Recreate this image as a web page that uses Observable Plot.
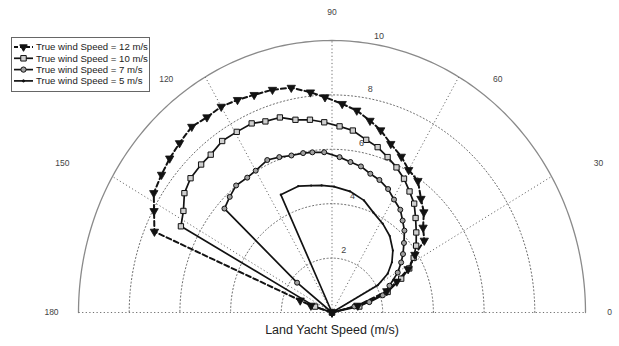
<!DOCTYPE html>
<html><head><meta charset="utf-8">
<script src="https://cdn.jsdelivr.net/npm/d3@7"></script>
<script src="https://cdn.jsdelivr.net/npm/@observablehq/plot@0.6"></script>
<style>
html,body{margin:0;padding:0;background:#fff;}
#wrap{position:relative;width:619px;height:346px;font-family:"Liberation Sans",Arial,sans-serif;}
#wrap svg.plot{position:absolute;left:0;top:0;}
#legend{position:absolute;left:11px;top:37px;}
</style></head><body><div id="wrap"></div>
<script>
// ---- data (angle in degrees, land yacht speed in m/s) ----
const seriesNames = ["True wind Speed = 12 m/s","True wind Speed = 10 m/s","True wind Speed = 7 m/s","True wind Speed = 5 m/s"];
const angles12 = [0, 14, 20, 24, 28, 33, 36, 41, 45.5, 50, 55, 60, 64.5, 69.5, 74, 78, 82.5, 87, 92, 96, 101, 106, 111, 115.5, 120, 124.5, 129, 134, 138.5, 143, 148, 152, 157, 160.5, 163, 170];
const speeds12 = [0, 1.05, 2.3, 2.8, 3.4, 3.9, 4.5, 4.76, 5.17, 5.46, 5.91, 6.05, 6.35, 6.62, 6.97, 7.21, 7.49, 7.68, 7.92, 8.14, 8.42, 8.52, 8.57, 8.66, 8.74, 8.71, 8.79, 8.66, 8.55, 8.42, 8.29, 7.95, 7.61, 1.33, 0.87, 0];
const angles10 = [0, 11.5, 19, 24.5, 28, 32, 36.5, 41.5, 46.5, 51, 55.5, 60, 64.5, 69, 73.5, 78, 83, 87.5, 92.5, 97, 101.5, 106, 110.5, 114.5, 119.5, 124.5, 129.5, 133.5, 138.5, 143, 147.5, 152, 162, 170];
const speeds10 = [0, 1.1, 2.32, 3.0, 3.45, 3.8, 4.13, 4.44, 4.79, 5.15, 5.4, 5.68, 5.91, 6.12, 6.34, 6.49, 6.74, 6.85, 7.0, 7.14, 7.23, 7.46, 7.5, 7.64, 7.63, 7.65, 7.52, 7.5, 7.45, 7.29, 6.95, 6.75, 0.7, 0];
const angles7 = [0, 14, 14.5, 17.5, 23.5, 29.5, 34, 37.5, 42, 46.5, 50.5, 54.5, 59.5, 64, 69, 73.5, 78, 82.5, 87, 93, 97.5, 101, 105.5, 110, 114.5, 120, 124, 129, 133.5, 138, 141.5, 170];
const speeds7 = [0, 0.91, 1.52, 2.1, 2.47, 2.98, 3.29, 3.53, 3.82, 4.15, 4.38, 4.64, 4.82, 5.05, 5.22, 5.32, 5.49, 5.58, 5.72, 5.9, 5.94, 5.97, 5.99, 6.08, 6.16, 6.02, 5.98, 6.01, 5.86, 5.71, 1.76, 0];
const angles5 = [0, 29, 33, 38, 43.5, 51, 58.5, 66, 73, 81, 89, 95, 100, 106, 115, 170];
const speeds5 = [0, 2.06, 2.62, 3.0, 3.31, 3.62, 3.83, 4.02, 4.31, 4.51, 4.63, 4.69, 4.74, 4.83, 4.78, 0];

const ringValues = [2, 4, 6, 8, 10];
const ringLabels = ["2", "4", "6", "8", "10"];
const spokeAngles = [30, 60, 90, 120, 150];
const angleTicks = [0, 30, 60, 90, 120, 150, 180];
const angleTickLabels = ["0", "30", "60", "90", "120", "150", "180"];
const axisTitle = "Land Yacht Speed (m/s)";

// ---- derived tables ----
const rMax = d3.max(ringValues);
const rad = a => a * Math.PI / 180;
const polar = (angles, speeds, name) => angles.map((a, i) => ({series: name, a, r: speeds[i],
  x: speeds[i] * Math.cos(rad(a)), y: speeds[i] * Math.sin(rad(a))}));
const d12 = polar(angles12, speeds12, seriesNames[0]);
const d10 = polar(angles10, speeds10, seriesNames[1]);
const d7 = polar(angles7, speeds7, seriesNames[2]);
const d5 = polar(angles5, speeds5, seriesNames[3]);
const ringPts = ringValues.flatMap(r => d3.range(0, 180.5, 1).map(a => ({ring: r, x: r * Math.cos(rad(a)), y: r * Math.sin(rad(a))})));

const tickOffsets = {0: [24, 0], 30: [47, -13], 60: [39, 2], 90: [0, -28], 120: [-39, 2], 150: [-50, -13], 180: [-27, 0]};
const ringLabelAngle = 80;

const grid = "#6e6e6e";
const dots = "1.2,2.4";
const ink = "#121212";

const marks = [
  Plot.line(ringPts.filter(d => d.ring < rMax), {x: "x", y: "y", z: "ring", stroke: grid, strokeWidth: 1, strokeDasharray: dots}),
  Plot.line(ringPts.filter(d => d.ring === rMax), {x: "x", y: "y", stroke: "#8a8a8a", strokeWidth: 1.3}),
  Plot.link(spokeAngles, {x1: () => 0, y1: () => 0, x2: a => rMax * Math.cos(rad(a)), y2: a => rMax * Math.sin(rad(a)), stroke: grid, strokeWidth: 1, strokeDasharray: dots}),
  Plot.link([rMax], {x1: r => -r, y1: () => 0, x2: r => r, y2: () => 0, stroke: grid, strokeWidth: 1.2, strokeDasharray: dots}),
  Plot.text(ringValues, {x: r => r * Math.cos(rad(ringLabelAngle)), y: r => r * Math.sin(rad(ringLabelAngle)), text: (r, i) => ringLabels[i], dx: 3, dy: -9, fontSize: 9, fill: "#444"}),
  ...angleTicks.map((a, i) => Plot.text([a], {x: d => rMax * Math.cos(rad(d)), y: d => rMax * Math.sin(rad(d)), text: () => angleTickLabels[i], dx: tickOffsets[a][0], dy: tickOffsets[a][1], fontSize: 8.5, fill: "#444"})),
  // series lines
  Plot.line(d5, {x: "x", y: "y", stroke: ink, strokeWidth: 1.7}),
  Plot.line(d7, {x: "x", y: "y", stroke: ink, strokeWidth: 1.7}),
  Plot.line(d10, {x: "x", y: "y", stroke: ink, strokeWidth: 1.7}),
  Plot.line(d12, {x: "x", y: "y", stroke: ink, strokeWidth: 2, strokeDasharray: "5,3"}),
  // markers
  Plot.dot(d5, {x: "x", y: "y", r: 1.1, fill: ink, stroke: "none"}),
  Plot.dot(d7, {x: "x", y: "y", r: 2.5, fill: "#a0a0a0", stroke: ink, strokeWidth: 1}),
  Plot.dot(d10, {x: "x", y: "y", symbol: "square", r: 3, fill: "#cfcfcf", stroke: ink, strokeWidth: 1}),
  Plot.dot(d12, {x: "x", y: "y", symbol: "triangle", rotate: 180, r: 3.1, fill: ink, stroke: ink, strokeWidth: 0.8}),
  Plot.text([axisTitle], {frameAnchor: "bottom", dy: 21, fontSize: 12.5, fill: "#222"})
];

const chart = Plot.plot({
  width: 619, height: 346,
  marginLeft: 78, marginRight: 34, marginTop: 40, marginBottom: 34,
  x: {domain: [-rMax, rMax], axis: null},
  y: {domain: [0, rMax], axis: null},
  style: {fontFamily: "Liberation Sans, Arial, sans-serif", background: "#fff", overflow: "visible"},
  marks
});
chart.classList.add("plot");
const wrap = document.getElementById("wrap");
wrap.appendChild(chart);

// ---- legend ----
const lw = 139, lh = 55;
const leg = d3.select(wrap).append("svg").attr("id", "legend").attr("width", lw).attr("height", lh)
  .style("font-family", "Liberation Sans, Arial, sans-serif");
leg.append("rect").attr("x", 0.5).attr("y", 0.5).attr("width", lw - 1).attr("height", lh - 1)
  .attr("fill", "#fff").attr("stroke", "#666").attr("stroke-width", 1);
const legStyles = [
  {dash: "4,2", sw: 2, sym: d3.symbolTriangle, size: 24, rot: 180, fill: ink},
  {dash: null, sw: 1.7, sym: d3.symbolSquare, size: 30, rot: 0, fill: "#cfcfcf"},
  {dash: null, sw: 1.7, sym: d3.symbolCircle, size: 22, rot: 0, fill: "#a0a0a0"},
  {dash: null, sw: 1.7, sym: d3.symbolCircle, size: 4, rot: 0, fill: ink}
];
seriesNames.forEach((name, i) => {
  const y = 10 + i * 11.3;
  const s = legStyles[i];
  leg.append("line").attr("x1", 3).attr("x2", 22).attr("y1", y).attr("y2", y)
    .attr("stroke", ink).attr("stroke-width", s.sw).attr("stroke-dasharray", s.dash);
  leg.append("path").attr("d", d3.symbol(s.sym, s.size)()).attr("transform", `translate(12.5,${y}) rotate(${s.rot})`)
    .attr("fill", s.fill).attr("stroke", ink).attr("stroke-width", 1);
  leg.append("text").attr("x", 25).attr("y", y).attr("dy", "0.35em").attr("font-size", 9.6).attr("fill", "#222").text(name);
});
</script></body></html>
